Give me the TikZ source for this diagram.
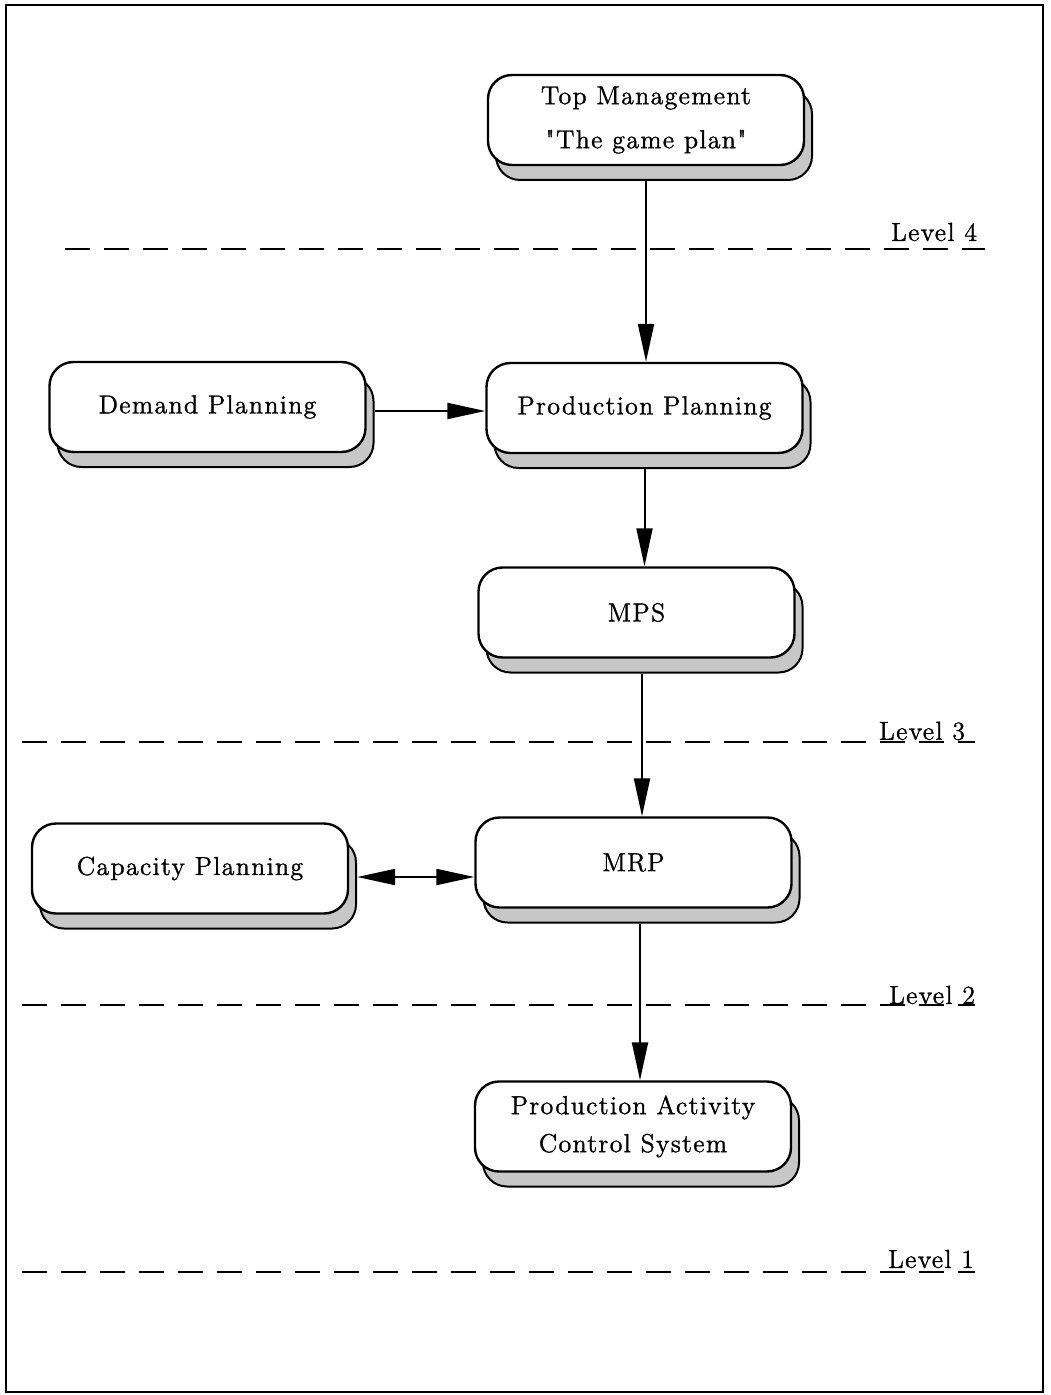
\documentclass[tikz,border=0pt]{standalone}
\usepackage{fontspec}
\setmainfont{Latin Modern Roman}[Ligatures=TeXOff,LetterSpace=5,FakeBold=1.2]
\usetikzlibrary{arrows.meta,shadows,calc}
\begin{document}
\begin{tikzpicture}[x=0.5pt,y=-0.5pt,
  box/.style={draw=black, line width=1.2pt, rounded corners=12pt, fill=white,
    minimum width=158pt, minimum height=45pt, inner sep=0pt, align=center,
    font=\fontsize{13}{22}\selectfont,
    copy shadow={shadow xshift=4pt, shadow yshift=-7.5pt, fill=black!22, draw=black, line width=1pt}},
  arr/.style={line width=1pt, -{Triangle[length=19pt,width=8pt]}},
  darr/.style={line width=1pt, {Triangle[length=19pt,width=8pt]}-{Triangle[length=19pt,width=8pt]}},
  level/.style={line width=1pt, dash pattern=on 12.5pt off 7pt},
  lbl/.style={inner sep=0pt, font=\fontsize{13}{14}\selectfont}]
\useasboundingbox (0,0) rectangle (1050,1395);
\draw[line width=1pt] (6,5) rectangle (1043,1392);

% level lines
\draw[level] (65,249) -- (985,249);
\draw[level] (22,742) -- (975,742);
\draw[level] (22,1005) -- (975,1005);
\draw[level] (22,1272) -- (975,1272);
\node[lbl] (l4) at (934,232) {Level 4};
\node[lbl] (l3) at (922,731) {Level 3};
\node[lbl] (l2) at (932,995) {Level 2};
\node[lbl] (l1) at (931,1259) {Level 1};

% boxes
\node[box] (top) at (646,120) {Top Management\\"The game plan"};
\node[box] (dem) at (207.5,407) {Demand Planning};
\node[box] (pp) at (644.5,408) {Production Planning};
\node[box] (mps) at (636.5,612.5) {MPS};
\node[box] (mrp) at (633.5,862.5) {MRP};
\node[box] (cap) at (190,868.5) {Capacity Planning};
\node[box,font=\fontsize{13}{19}\selectfont] (pacs) at (633,1126.5) {Production Activity\\Control System};

% connectors
\draw[arr] ($(top.south)+(0,-7.5pt)$) -- (top.south |- pp.north);
\draw[arr] ($(pp.south)+(0,-7.5pt)$) -- (pp.south |- mps.north);
\draw[arr] ($(mps.south)+(2.75pt,-7.5pt)$) -- ($(mps.south |- mrp.north)+(2.75pt,0)$);
\draw[arr] ($(mrp.south)+(3.25pt,-7.5pt)$) -- ($(mrp.south |- pacs.north)+(3.25pt,0)$);
\draw[arr] ($(dem.east)+(4pt,-2pt)$) -- (pp.west |- {$(dem.east)+(0,-2pt)$});
\draw[darr] ($(cap.east)+(4pt,-4.25pt)$) -- ($(mrp.west)+(0,-7.25pt)$);
\end{tikzpicture}
\end{document}
